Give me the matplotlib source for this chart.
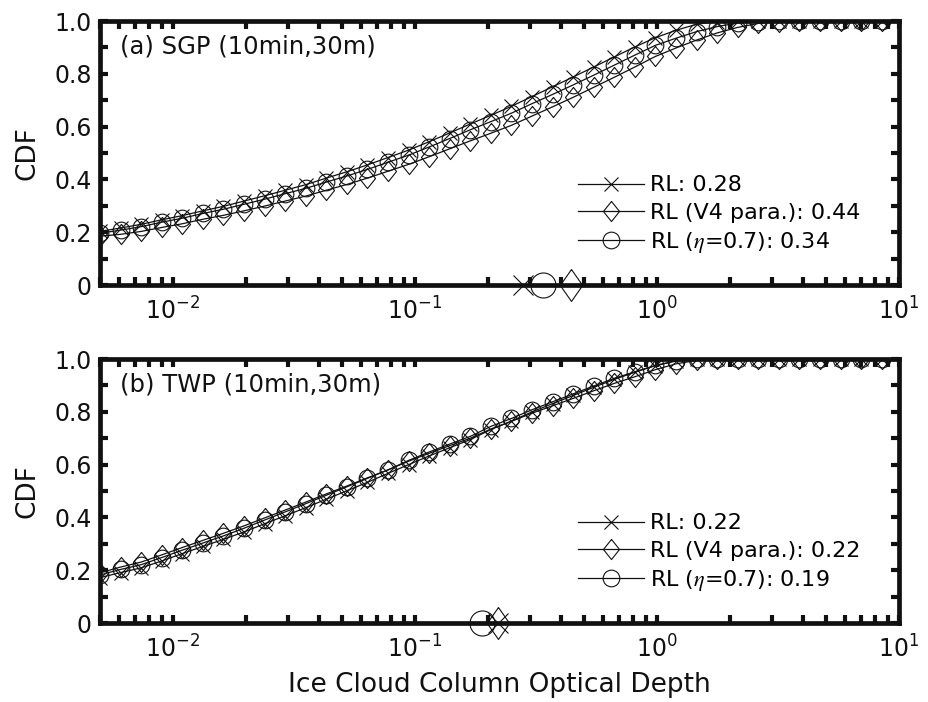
import matplotlib
matplotlib.use("Agg")
import matplotlib.pyplot as plt
from matplotlib.ticker import FuncFormatter, LogLocator, MultipleLocator

# Optical-depth bin centres (log spaced).
TAU = [0.00500, 0.00608, 0.00740, 0.00899, 0.01094, 0.01330, 0.01618, 0.01968,
       0.02393, 0.02911, 0.03540, 0.04305, 0.05236, 0.06368, 0.07745, 0.09419,
       0.1146, 0.1393, 0.1694, 0.2061, 0.2506, 0.3048, 0.3707, 0.4508, 0.5483,
       0.6668, 0.8110, 0.9863, 1.1995, 1.4588, 1.7742, 2.1577, 2.6242, 3.1915,
       3.8815, 4.7206, 5.7412, 6.9823, 8.4918]

# (a) SGP CDFs
SGP_RL = [0.203, 0.216, 0.230, 0.247, 0.263, 0.281, 0.298, 0.318, 0.338, 0.359,
          0.380, 0.405, 0.429, 0.455, 0.483, 0.511, 0.543, 0.576, 0.610, 0.643,
          0.677, 0.714, 0.751, 0.788, 0.826, 0.864, 0.902, 0.937, 0.965, 0.988,
          0.998, 1.0, 1.0, 1.0, 1.0, 1.0, 1.0, 1.0, 1.0]
SGP_V4 = [0.185, 0.192, 0.203, 0.218, 0.232, 0.249, 0.264, 0.281, 0.299, 0.318,
          0.337, 0.359, 0.381, 0.405, 0.431, 0.457, 0.486, 0.516, 0.546, 0.575,
          0.605, 0.640, 0.675, 0.711, 0.749, 0.787, 0.826, 0.866, 0.898, 0.928,
          0.955, 0.976, 0.991, 0.998, 1.0, 1.0, 1.0, 1.0, 1.0]
SGP_ETA = [0.196, 0.208, 0.221, 0.238, 0.253, 0.271, 0.287, 0.306, 0.325, 0.346,
           0.366, 0.390, 0.413, 0.438, 0.465, 0.492, 0.523, 0.555, 0.588, 0.619,
           0.651, 0.687, 0.722, 0.758, 0.795, 0.833, 0.871, 0.908, 0.935, 0.960,
           0.979, 0.993, 0.998, 1.0, 1.0, 1.0, 1.0, 1.0, 1.0]
SGP_MEDIAN = [0.28, 0.44, 0.34]

# (b) TWP CDFs
TWP_RL = [0.172, 0.191, 0.209, 0.235, 0.263, 0.290, 0.317, 0.345, 0.376, 0.406,
          0.437, 0.469, 0.501, 0.533, 0.567, 0.600, 0.633, 0.664, 0.695, 0.733,
          0.765, 0.800, 0.831, 0.862, 0.893, 0.923, 0.950, 0.975, 0.993, 0.999,
          1.0, 1.0, 1.0, 1.0, 1.0, 1.0, 1.0, 1.0, 1.0]
TWP_V4 = [0.190, 0.212, 0.231, 0.258, 0.286, 0.313, 0.340, 0.368, 0.398, 0.428,
          0.458, 0.489, 0.519, 0.550, 0.580, 0.613, 0.643, 0.672, 0.700, 0.735,
          0.764, 0.795, 0.823, 0.851, 0.880, 0.908, 0.933, 0.960, 0.982, 0.995,
          1.0, 1.0, 1.0, 1.0, 1.0, 1.0, 1.0, 1.0, 1.0]
TWP_ETA = [0.182, 0.203, 0.221, 0.248, 0.276, 0.303, 0.330, 0.359, 0.390, 0.421,
           0.452, 0.484, 0.516, 0.548, 0.580, 0.616, 0.648, 0.678, 0.707, 0.745,
           0.775, 0.808, 0.838, 0.868, 0.898, 0.927, 0.952, 0.976, 0.993, 0.999,
           1.0, 1.0, 1.0, 1.0, 1.0, 1.0, 1.0, 1.0, 1.0]
TWP_MEDIAN = [0.22, 0.22, 0.19]

SERIES = ["RL", "RL (V4 para.)", r"RL ($\eta$=0.7)"]
PANELS = [
    ("(a) SGP (10min,30m)", [SGP_RL, SGP_V4, SGP_ETA], SGP_MEDIAN),
    ("(b) TWP (10min,30m)", [TWP_RL, TWP_V4, TWP_ETA], TWP_MEDIAN),
]

INK = "#111111"
DIAMOND = [(0, 1), (0.8, 0), (0, -1), (-0.8, 0), (0, 1)]
DIAMOND_BIG = [(0, 1), (0.7, 0), (0, -1), (-0.7, 0), (0, 1)]
# marker, size on the curve, marker for the median, its size
MARKERS = [("x", 9.5, "x", 14.5), (DIAMOND, 14.5, DIAMOND_BIG, 23), ("o", 12, "o", 18)]

TICK_FS = 17
LABEL_FS = 19

plt.rcParams["font.family"] = "DejaVu Sans"
plt.rcParams["mathtext.fontset"] = "dejavusans"


def draw_panel(ax, title, curves, medians):
    for label, ys, med, (m, ms, mm, mms) in zip(SERIES, curves, medians, MARKERS):
        ax.plot(TAU, ys, color=INK, lw=0.9, marker=m, ms=ms, mfc="none",
                mec=INK, mew=0.8, label=f"{label}: {med:.2f}")
        ax.plot([med], [0], ls="none", marker=mm, ms=mms, mfc="none",
                mec=INK, mew=0.8, clip_on=False, zorder=5)

    ax.set_xscale("log")
    ax.set_xlim(0.005, 10)
    ax.set_ylim(0, 1)
    ax.xaxis.set_major_locator(LogLocator(base=10, numticks=10))
    ax.xaxis.set_minor_locator(LogLocator(base=10, subs=range(2, 10), numticks=20))
    ax.yaxis.set_major_locator(MultipleLocator(0.2))
    ax.yaxis.set_minor_locator(MultipleLocator(0.1))
    ax.yaxis.set_major_formatter(
        FuncFormatter(lambda v, _: "0" if abs(v) < 1e-9 else f"{v:.1f}"))

    for side in ax.spines.values():
        side.set_linewidth(3.4)
        side.set_color(INK)
    ax.tick_params(which="both", direction="in", top=True, right=True,
                   length=5.5, width=3, colors=INK, labelsize=TICK_FS)
    ax.tick_params(axis="x", which="major", pad=9)
    ax.tick_params(axis="y", which="major", pad=6)

    ax.text(0.025, 0.95, title, transform=ax.transAxes, fontsize=17.5,
            ha="left", va="top", color=INK)
    ax.set_ylabel("CDF", fontsize=LABEL_FS, color=INK, labelpad=10)

    leg = ax.legend(loc="upper left", bbox_to_anchor=(0.598, 0.415),
                    frameon=False, fontsize=16, handlelength=3.0,
                    handletextpad=0.25, labelspacing=0.33, borderpad=0,
                    borderaxespad=0)
    for t in leg.get_texts():
        t.set_math_fontfamily("stix")


def main():
    fig = plt.figure(figsize=(9.29, 7.02), dpi=100, facecolor="white")
    axes = [fig.add_axes([0.1076, 0.594, 0.860, 0.376]),
            fig.add_axes([0.1076, 0.1125, 0.860, 0.376])]
    for ax, (title, curves, medians) in zip(axes, PANELS):
        draw_panel(ax, title, curves, medians)
    axes[1].set_xlabel("Ice Cloud Column Optical Depth", fontsize=LABEL_FS,
                       color=INK, labelpad=7)
    fig.savefig("out.png", dpi=100, facecolor="white")


if __name__ == "__main__":
    main()
